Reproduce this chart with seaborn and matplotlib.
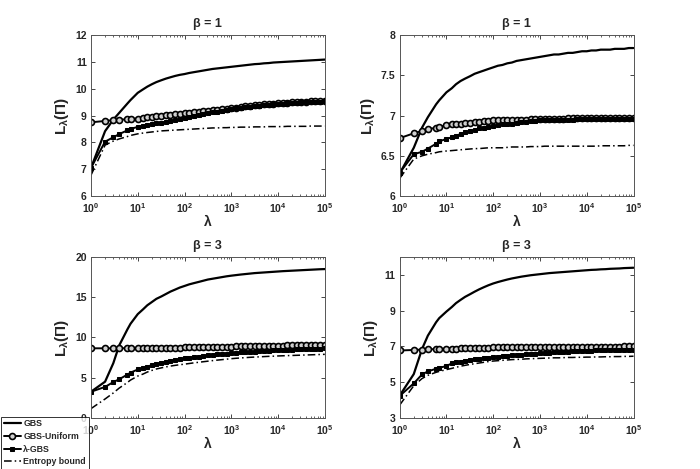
import numpy as np
import pandas as pd
import seaborn as sns
from matplotlib import pyplot as plt
from matplotlib.ticker import LogLocator

# lambda values (x axis, log scale)
lam = [1, 2, 3, 4, 6, 7, 10,
       13, 16, 20, 25, 32, 40, 50, 63, 79, 100,
       126, 158, 200, 251, 316, 398, 501, 631, 794, 1000,
       1259, 1585, 1995, 2512, 3162, 3981, 5012, 6310, 7943, 10000,
       12589, 15849, 19953, 25119, 31623, 39811, 50119, 63096, 79433, 100000]

# ---- top left, beta = 1
p1_gbs = [7.05, 8.42, 8.85, 9.1, 9.45, 9.58, 9.85,
          9.98, 10.08, 10.17, 10.25, 10.32, 10.38, 10.43, 10.48, 10.52, 10.55,
          10.59, 10.62, 10.65, 10.68, 10.71, 10.74, 10.76, 10.78, 10.80, 10.82,
          10.84, 10.86, 10.88, 10.90, 10.92, 10.93, 10.95, 10.96, 10.98, 10.99,
          11.00, 11.01, 11.02, 11.03, 11.04, 11.05, 11.06, 11.07, 11.08, 11.09]
p1_unif = [8.75, 8.80, 8.83, 8.85, 8.86, 8.87, 8.89,
           8.91, 8.93, 8.95, 8.97, 8.99, 9.01, 9.03, 9.05, 9.06, 9.08,
           9.10, 9.12, 9.14, 9.16, 9.18, 9.20, 9.22, 9.24, 9.26, 9.28,
           9.30, 9.32, 9.34, 9.36, 9.38, 9.40, 9.42, 9.43, 9.45, 9.46,
           9.47, 9.48, 9.49, 9.50, 9.51, 9.52, 9.53, 9.54, 9.55, 9.56]
p1_lgbs = [7.05, 8.03, 8.19, 8.31, 8.45, 8.50, 8.58,
           8.62, 8.65, 8.68, 8.71, 8.74, 8.77, 8.80, 8.83, 8.86, 8.90,
           8.94, 8.98, 9.02, 9.05, 9.09, 9.12, 9.15, 9.18, 9.21, 9.24,
           9.27, 9.29, 9.31, 9.33, 9.35, 9.37, 9.39, 9.41, 9.42, 9.44,
           9.45, 9.46, 9.47, 9.48, 9.49, 9.50, 9.51, 9.52, 9.52, 9.53]
p1_ent = [6.78, 7.90, 8.05, 8.13, 8.22, 8.26, 8.32,
          8.35, 8.37, 8.39, 8.41, 8.43, 8.44, 8.45, 8.46, 8.47, 8.48,
          8.49, 8.50, 8.51, 8.52, 8.53, 8.54, 8.54, 8.55, 8.55, 8.56,
          8.56, 8.57, 8.57, 8.57, 8.58, 8.58, 8.58, 8.59, 8.59, 8.59,
          8.59, 8.60, 8.60, 8.60, 8.60, 8.60, 8.61, 8.61, 8.61, 8.61]

# ---- top right, beta = 1
p2_gbs = [6.28, 6.60, 6.85, 6.98, 7.14, 7.19, 7.29,
          7.34, 7.39, 7.43, 7.46, 7.49, 7.52, 7.54, 7.56, 7.58, 7.60,
          7.62, 7.63, 7.65, 7.66, 7.68, 7.69, 7.70, 7.71, 7.72, 7.73,
          7.74, 7.75, 7.76, 7.76, 7.77, 7.78, 7.78, 7.79, 7.80, 7.80,
          7.81, 7.81, 7.82, 7.82, 7.82, 7.83, 7.83, 7.83, 7.84, 7.84]
p2_unif = [6.72, 6.78, 6.81, 6.83, 6.85, 6.86, 6.88,
           6.89, 6.90, 6.90, 6.91, 6.91, 6.92, 6.92, 6.93, 6.93, 6.94,
           6.94, 6.94, 6.95, 6.95, 6.95, 6.95, 6.95, 6.96, 6.96, 6.96,
           6.96, 6.96, 6.96, 6.96, 6.96, 6.97, 6.97, 6.97, 6.97, 6.97,
           6.97, 6.97, 6.97, 6.97, 6.97, 6.97, 6.97, 6.97, 6.97, 6.97]
p2_lgbs = [6.29, 6.52, 6.55, 6.59, 6.65, 6.68, 6.71,
           6.73, 6.75, 6.77, 6.79, 6.81, 6.82, 6.84, 6.85, 6.86, 6.87,
           6.88, 6.89, 6.90, 6.90, 6.91, 6.92, 6.92, 6.93, 6.93, 6.94,
           6.94, 6.94, 6.95, 6.95, 6.95, 6.95, 6.95, 6.96, 6.96, 6.96,
           6.96, 6.96, 6.96, 6.96, 6.96, 6.96, 6.96, 6.96, 6.96, 6.96]
p2_ent = [6.22, 6.46, 6.50, 6.52, 6.54, 6.55, 6.56,
          6.565, 6.57, 6.575, 6.58, 6.585, 6.59, 6.59, 6.595, 6.60, 6.60,
          6.60, 6.60, 6.605, 6.61, 6.61, 6.61, 6.61, 6.615, 6.615, 6.615,
          6.62, 6.62, 6.62, 6.62, 6.62, 6.62, 6.62, 6.62, 6.62, 6.62,
          6.62, 6.62, 6.625, 6.625, 6.625, 6.625, 6.625, 6.625, 6.63, 6.63]

# ---- bottom left, beta = 3
p3_gbs = [3.25, 4.50, 6.80, 9.00, 11.0, 11.7, 12.9,
          13.5, 14.0, 14.4, 14.8, 15.1, 15.4, 15.7, 15.95, 16.2, 16.4,
          16.6, 16.75, 16.9, 17.05, 17.2, 17.3, 17.4, 17.5, 17.6, 17.68,
          17.75, 17.82, 17.88, 17.94, 18.0, 18.04, 18.08, 18.12, 18.16, 18.2,
          18.24, 18.27, 18.3, 18.33, 18.36, 18.39, 18.42, 18.45, 18.48, 18.5]
p3_unif = [8.65, 8.65, 8.65, 8.66, 8.66, 8.66, 8.67,
           8.67, 8.68, 8.68, 8.69, 8.69, 8.70, 8.71, 8.72, 8.73, 8.75,
           8.76, 8.77, 8.78, 8.79, 8.80, 8.82, 8.83, 8.84, 8.85, 8.87,
           8.88, 8.89, 8.90, 8.92, 8.93, 8.94, 8.95, 8.96, 8.97, 8.98,
           8.99, 9.00, 9.01, 9.02, 9.03, 9.04, 9.05, 9.05, 9.06, 9.07]
p3_lgbs = [3.25, 3.85, 4.45, 4.80, 5.38, 5.62, 6.02,
           6.20, 6.38, 6.55, 6.70, 6.85, 6.98, 7.10, 7.20, 7.30, 7.40,
           7.48, 7.56, 7.63, 7.70, 7.77, 7.83, 7.89, 7.94, 7.99, 8.04,
           8.09, 8.13, 8.17, 8.21, 8.25, 8.29, 8.32, 8.35, 8.38, 8.41,
           8.44, 8.46, 8.49, 8.51, 8.54, 8.56, 8.58, 8.60, 8.62, 8.65]
p3_ent = [1.15, 2.35, 3.10, 3.70, 4.40, 4.70, 5.20,
          5.45, 5.70, 5.90, 6.08, 6.22, 6.34, 6.44, 6.53, 6.61, 6.68,
          6.76, 6.84, 6.91, 6.98, 7.05, 7.12, 7.18, 7.24, 7.30, 7.36,
          7.41, 7.45, 7.49, 7.53, 7.56, 7.59, 7.62, 7.65, 7.67, 7.70,
          7.72, 7.74, 7.76, 7.78, 7.80, 7.82, 7.84, 7.86, 7.88, 7.90]

# ---- bottom right, beta = 3
p4_gbs = [4.25, 5.45, 6.85, 7.60, 8.35, 8.58, 8.95,
          9.20, 9.42, 9.60, 9.77, 9.92, 10.06, 10.19, 10.31, 10.42, 10.52,
          10.60, 10.67, 10.74, 10.80, 10.85, 10.90, 10.94, 10.98, 11.01, 11.04,
          11.07, 11.10, 11.12, 11.14, 11.16, 11.18, 11.20, 11.22, 11.24, 11.26,
          11.28, 11.29, 11.31, 11.32, 11.34, 11.35, 11.36, 11.38, 11.39, 11.40]
p4_unif = [6.77, 6.80, 6.82, 6.83, 6.85, 6.85, 6.87,
           6.88, 6.88, 6.89, 6.90, 6.90, 6.91, 6.92, 6.92, 6.93, 6.94,
           6.94, 6.94, 6.95, 6.95, 6.95, 6.95, 6.96, 6.96, 6.96, 6.96,
           6.97, 6.97, 6.97, 6.97, 6.97, 6.98, 6.98, 6.98, 6.98, 6.98,
           6.98, 6.98, 6.98, 6.99, 6.99, 6.99, 6.99, 7.00, 7.00, 7.00]
p4_lgbs = [4.23, 4.93, 5.43, 5.60, 5.75, 5.80, 5.90,
           6.05, 6.10, 6.15, 6.20, 6.24, 6.27, 6.30, 6.33, 6.36, 6.40,
           6.43, 6.46, 6.48, 6.50, 6.52, 6.54, 6.56, 6.58, 6.60, 6.62,
           6.64, 6.65, 6.67, 6.68, 6.70, 6.71, 6.72, 6.73, 6.74, 6.75,
           6.76, 6.77, 6.77, 6.78, 6.78, 6.79, 6.79, 6.80, 6.80, 6.81]
p4_ent = [3.72, 4.80, 5.20, 5.38, 5.55, 5.60, 5.70,
          5.77, 5.83, 5.89, 5.94, 5.99, 6.03, 6.07, 6.11, 6.15, 6.18,
          6.20, 6.22, 6.24, 6.26, 6.27, 6.28, 6.30, 6.31, 6.32, 6.33,
          6.34, 6.35, 6.36, 6.36, 6.37, 6.38, 6.38, 6.39, 6.39, 6.40,
          6.40, 6.41, 6.41, 6.42, 6.42, 6.43, 6.43, 6.44, 6.44, 6.45]

titles = ["β = 1", "β = 1", "β = 3", "β = 3"]
ylims = [(6, 12), (6, 8), (0, 20), (3, 12)]
yticks = [[6, 7, 8, 9, 10, 11, 12], [6, 6.5, 7, 7.5, 8],
          [0, 5, 10, 15, 20], [3, 5, 7, 9, 11]]
ytick_labels = [["6", "7", "8", "9", "10", "11", "12"],
                ["6", "6.5", "7", "7.5", "8"],
                ["0", "5", "10", "15", "20"],
                ["3", "5", "7", "9", "11"]]
panels = [
    (p1_gbs, p1_unif, p1_lgbs, p1_ent),
    (p2_gbs, p2_unif, p2_lgbs, p2_ent),
    (p3_gbs, p3_unif, p3_lgbs, p3_ent),
    (p4_gbs, p4_unif, p4_lgbs, p4_ent),
]
names = ["GBS", "GBS-Uniform", "λ-GBS", "Entropy bound"]

sns.set_style("ticks", {
    "xtick.direction": "in", "ytick.direction": "in",
    "xtick.top": True, "ytick.right": True,
})
plt.rcParams["font.family"] = ["Liberation Sans", "DejaVu Sans"]
plt.rcParams["font.weight"] = "bold"
plt.rcParams["axes.titleweight"] = "bold"
plt.rcParams["axes.labelweight"] = "bold"
plt.rcParams["mathtext.fontset"] = "custom"
plt.rcParams["mathtext.rm"] = "Liberation Sans:bold"
plt.rcParams["mathtext.it"] = "Liberation Sans:bold"
plt.rcParams["mathtext.bf"] = "Liberation Sans:bold"

fig = plt.figure(figsize=(7, 4.69), dpi=100)
positions = [
    [0.13, 0.582, 0.334, 0.343],
    [0.571, 0.582, 0.334, 0.343],
    [0.13, 0.109, 0.334, 0.343],
    [0.571, 0.109, 0.334, 0.343],
]

for i, (gbs, unif, lgbs, ent) in enumerate(panels):
    for s in (gbs, unif, lgbs, ent):
        assert len(s) == len(lam)
    ax = fig.add_axes(positions[i])
    sns.lineplot(x=lam, y=gbs, color="k", lw=1.6, label=names[0], ax=ax)
    sns.lineplot(x=lam, y=unif, color="k", lw=1.4, marker="o", ms=4.3,
                 mfc="#cfcfcf", mec="k", mew=1.2, label=names[1], ax=ax)
    sns.lineplot(x=lam, y=lgbs, color="k", lw=1.4, marker="s", ms=3.3,
                 mfc="k", mec="k", label=names[2], ax=ax)
    sns.lineplot(x=lam, y=ent, color="k", lw=1.1, linestyle=(0, (5, 2, 1, 2)),
                 label=names[3], ax=ax)
    ax.set_xscale("log")
    ax.set_xlim(1, 1e5)
    ax.set_ylim(*ylims[i])
    ax.set_yticks(yticks[i])
    ax.set_yticklabels(ytick_labels[i])
    ax.xaxis.set_major_locator(LogLocator(base=10, numticks=10))
    ax.xaxis.set_minor_locator(LogLocator(base=10, subs=np.arange(2, 10), numticks=10))
    ax.tick_params(which="major", length=3, width=0.6, labelsize=7.5)
    ax.tick_params(axis="y", which="major", pad=3)
    ax.tick_params(axis="x", which="major", pad=4)
    ax.tick_params(which="minor", length=1.5, width=0.5)
    for sp in ax.spines.values():
        sp.set_linewidth(0.7)
        sp.set_color("#555555")
    ax.set_title(titles[i], fontsize=9, pad=6)
    ax.set_xlabel("λ", fontsize=10, labelpad=0)
    ax.set_ylabel("L$_{λ}$(Π)", fontsize=11, labelpad=3)
    handles, labels = ax.get_legend_handles_labels()
    ax.get_legend().remove()

leg = fig.legend(handles, labels, loc="lower left", bbox_to_anchor=(0.0015, 0.0),
                 borderaxespad=0.0, frameon=True, fancybox=False,
                 edgecolor="k", fontsize=6.3, handlelength=2.0,
                 labelspacing=0.42, borderpad=0.3, handletextpad=0.25)
leg.get_frame().set_linewidth(0.7)

fig.savefig("out.png", dpi=100)
